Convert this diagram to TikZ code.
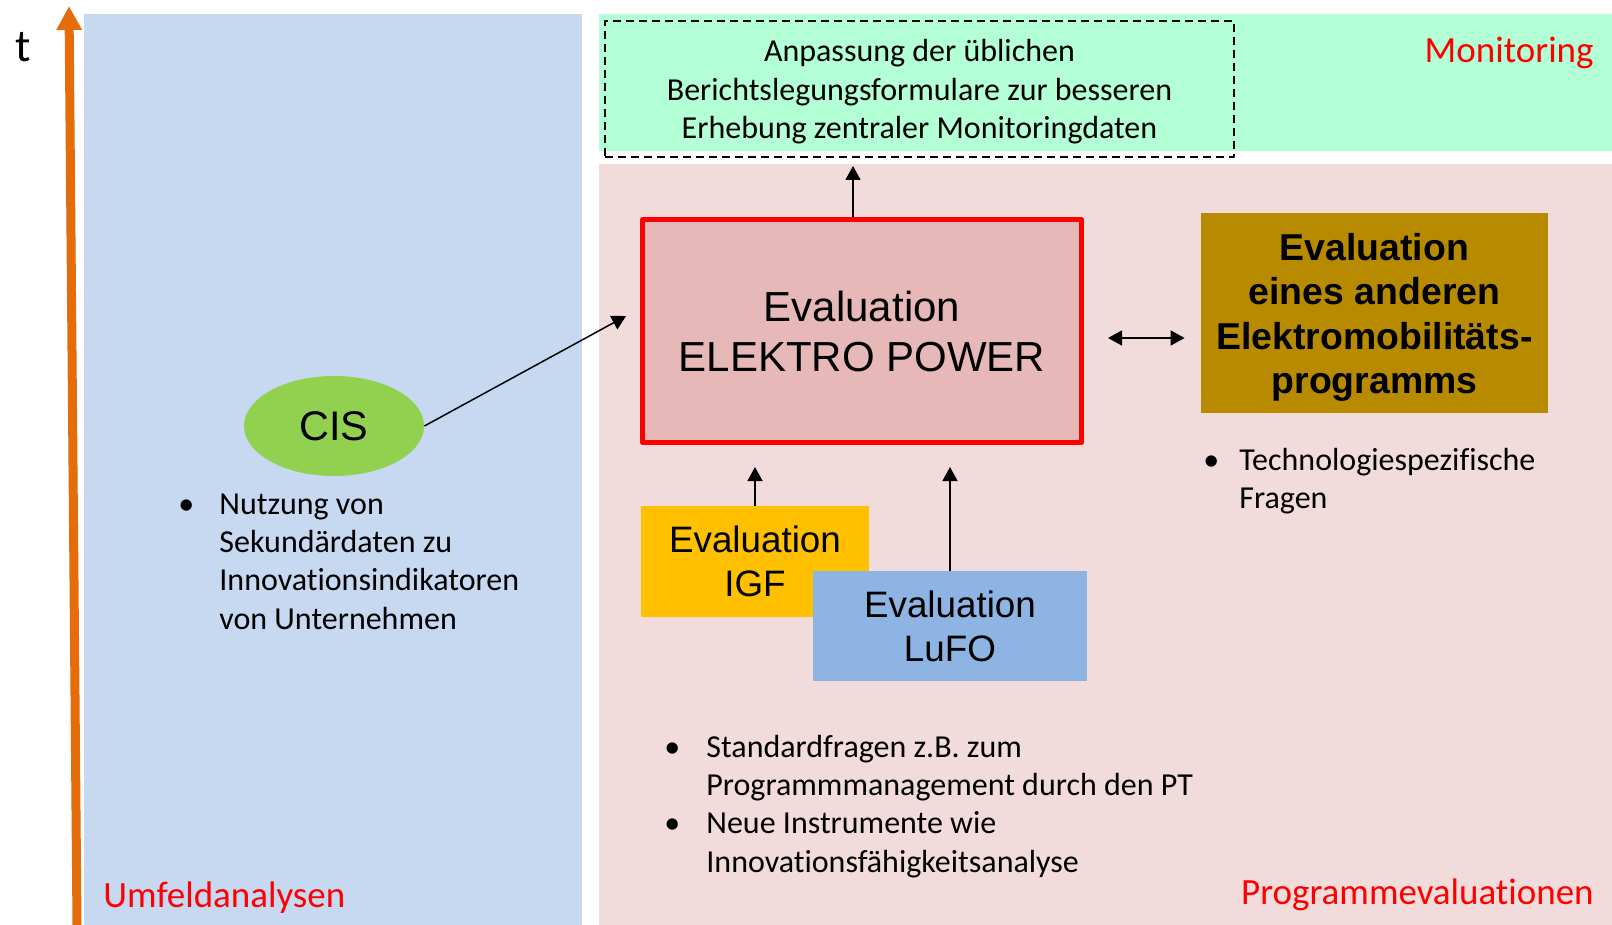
\documentclass[tikz,border=0pt]{standalone}
\usepackage{fontspec}
\setmainfont[Ligatures={NoCommon}]{Carlito}
\newfontfamily\arialfont{Liberation Sans}
\usetikzlibrary{arrows.meta,shapes.geometric}
\definecolor{umfeld}{RGB}{198,217,241}
\definecolor{monit}{RGB}{179,255,214}
\definecolor{progev}{RGB}{242,220,219}
\definecolor{zeitpfeil}{RGB}{228,108,10}
\definecolor{epfill}{RGB}{230,184,183}
\definecolor{anderefill}{RGB}{184,138,0}
\definecolor{igffill}{RGB}{255,192,0}
\definecolor{lufofill}{RGB}{142,180,227}
\definecolor{cisfill}{RGB}{146,208,80}
\newcommand{\bp}[1]{\makebox[#1][l]{\textbullet}}
\begin{document}
\begin{tikzpicture}[x=0.5pt, y=-0.5pt, line join=round, >={Triangle[width=7.5pt,length=7pt]},
	box/.style={inner sep=0pt, align=center, font=\arialfont\fontsize{18.4}{22}\selectfont},
	bereich/.style={inner sep=0pt, text=red, font=\fontsize{18.5}{22}\selectfont},
	punkte/.style={inner sep=0pt, anchor=base west, font=\fontsize{16}{19.2}\selectfont},
	pfeil/.style={->, line width=0.75pt}]
	\useasboundingbox (0,0) rectangle (1612,925);
	% Bereiche
	\fill[umfeld] (84,14) rectangle (582,925);
	\fill[monit] (599,14) rectangle (1612,151);
	\fill[progev] (599,164) rectangle (1612,925);
	\draw[zeitpfeil, line width=4.5pt, -{Triangle[width=12pt,length=12pt]}] (77,925) -- (69,6);
	\node[font=\fontsize{23}{27}\selectfont] (t) at (23,47) {t};
	\node[bereich, anchor=east] (monitoring) at (1594,53) {Monitoring};
	\node[bereich, anchor=east] (progeval) at (1594,895) {Programmevaluationen};
	\node[bereich, anchor=west] (umfeld) at (103,898) {Umfeldanalysen};
	% Kästen
	\node[draw, dashed, dash pattern=on 4pt off 2.5pt, line width=1pt, inner sep=0pt, align=center,
		minimum width=314.5pt, minimum height=68pt, font=\fontsize{16}{19.2}\selectfont] (formulare) at (919.5,89)
		{\rule{0pt}{14pt}Anpassung der üblichen\\Berichtslegungsformulare zur besseren\\Erhebung zentraler Monitoringdaten};
	\node[box, draw=red, line width=2.5pt, fill=epfill, minimum width=219.5pt, minimum height=111.5pt,
		font=\arialfont\fontsize{21}{25}\selectfont] (ep) at (862,331) {Evaluation\\ELEKTRO POWER};
	\node[box, fill=anderefill, minimum width=173.5pt, minimum height=100pt,
		font=\arialfont\bfseries\fontsize{18.7}{22.2}\selectfont] (andere) at (1374.5,313)
		{\rule{0pt}{18pt}Evaluation\\eines anderen\\Elektromobilitäts-\\programms};
	\node[box, fill=igffill, minimum width=114pt, minimum height=55.5pt] (igf) at (755,561.5) {Evaluation\\IGF};
	\node[box, fill=lufofill, minimum width=137pt, minimum height=55pt] (lufo) at (950,626) {Evaluation\\LuFO};
	\node[ellipse, fill=cisfill, inner sep=0pt, minimum width=90pt, minimum height=50pt,
		font=\arialfont\fontsize{20.7}{24}\selectfont] (cis) at (334,426) {CIS};
	% Aufzählungen
	\node[punkte] (nutzung) at (178,514) {\begin{tabular}[t]{@{}l@{}l@{}}
		\bp{20.5pt} & Nutzung von\\ & Sekundärdaten zu\\ & Innovationsindikatoren\\ & von Unternehmen\end{tabular}};
	\node[punkte] (techno) at (1203,470) {\begin{tabular}[t]{@{}l@{}l@{}}
		\bp{18pt} & Technologiespezifische\\ & Fragen\end{tabular}};
	\node[punkte] (standard) at (664,757) {\begin{tabular}[t]{@{}l@{}l@{}}
		\bp{21pt} & Standardfragen z.B. zum\\ & Programmmanagement durch den PT\\
		\bp{21pt} & Neue Instrumente wie\\ & Innovationsfähigkeitsanalyse\end{tabular}};
	% Pfeile
	\coordinate (cisziel) at (626,316);
	\coordinate (epziel) at (853,166);
	\coordinate (doppel) at (0,338);
	\draw[pfeil] (cis.east) -- (cisziel);
	\draw[pfeil] (epziel |- ep.north) -- (epziel);
	\draw[pfeil, <->, shorten <=12pt, shorten >=8pt] (ep.east |- doppel) -- (andere.west |- doppel);
	\draw[pfeil, shorten >=11pt] (igf.north) -- (igf.north |- ep.south);
	\draw[pfeil, shorten >=11pt] (lufo.north) -- (lufo.north |- ep.south);
\end{tikzpicture}
\end{document}
